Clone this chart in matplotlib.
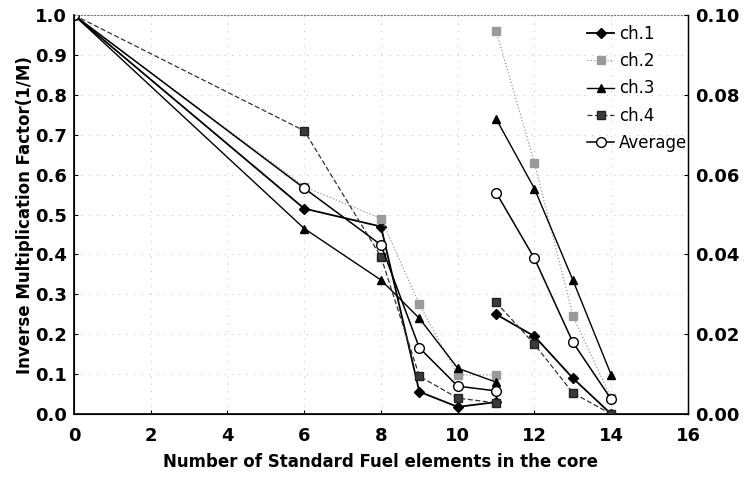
import matplotlib
matplotlib.use("Agg")
import matplotlib.pyplot as plt
import numpy as np

# first loading stage, left axis (1/M)
x_low = [0, 6, 8, 9, 10, 11]
ch1_low = [1.0, 0.515, 0.47, 0.056, 0.018, 0.03]
ch2_low = [1.0, 0.57, 0.49, 0.275, 0.098, 0.098]
ch3_low = [1.0, 0.465, 0.336, 0.24, 0.115, 0.08]
ch4_low = [1.0, 0.71, 0.394, 0.095, 0.04, 0.028]
avg_low = [1.0, 0.566, 0.424, 0.166, 0.07, 0.058]

# second stage, right axis (1/M)
x_high = [11, 12, 13, 14]
ch1_high = [0.025, 0.0195, 0.009, 0.0]
ch2_high = [0.096, 0.063, 0.0246, 0.004]
ch3_high = [0.074, 0.0565, 0.0336, 0.0098]
ch4_high = [0.028, 0.0175, 0.0053, 0.0]
avg_high = [0.0555, 0.039, 0.018, 0.0037]

styles = {
    "ch.1": dict(color="black", lw=1.3, ls="-", marker="D", ms=5, mfc="black", mec="black"),
    "ch.2": dict(color="#9a9a9a", lw=0.9, ls=":", marker="s", ms=6, mfc="#9a9a9a", mec="#9a9a9a"),
    "ch.3": dict(color="black", lw=1.0, ls="-", marker="^", ms=6, mfc="black", mec="black"),
    "ch.4": dict(color="#333333", lw=0.9, ls=(0, (4, 2)), marker="s", ms=6, mfc="#3a3a3a", mec="#222222"),
    "Average": dict(color="black", lw=1.1, ls="-", marker="o", ms=7, mfc="white", mec="black"),
}

fig = plt.figure(figsize=(7.46, 4.86), dpi=100)
ax = fig.add_axes([0.0992, 0.148, 0.823, 0.821])
ax2 = ax.twinx()

lows = [ch1_low, ch2_low, ch3_low, ch4_low, avg_low]
highs = [ch1_high, ch2_high, ch3_high, ch4_high, avg_high]
handles = []
for name, lo, hi in zip(styles, lows, highs):
    h, = ax.plot(x_low, lo, label=name, **styles[name])
    ax2.plot(x_high, hi, **styles[name])
    handles.append(h)

ax.set_xlim(0, 16)
ax.set_ylim(0, 1.0)
ax2.set_ylim(0, 0.10)
ax.set_xticks(np.arange(0, 17, 2))
ax.set_yticks(np.arange(0, 1.01, 0.1))
ax2.set_yticks(np.arange(0, 0.101, 0.02))
ax.yaxis.set_major_formatter(matplotlib.ticker.StrMethodFormatter("{x:.1f}"))
ax2.yaxis.set_major_formatter(matplotlib.ticker.StrMethodFormatter("{x:.2f}"))

ax.grid(True, ls=(0, (1, 8)), color="#aaaaaa", lw=0.6)
ax.spines["top"].set_linestyle((0, (1, 2)))
ax.spines["top"].set_color("#777777")
ax2.spines["top"].set_visible(False)
for s in ["left", "bottom"]:
    ax.spines[s].set_linewidth(1.2)
ax2.spines["right"].set_linewidth(1.0)

for a in (ax, ax2):
    a.tick_params(direction="in", length=3, labelsize=13, pad=5)
    for lab in a.get_xticklabels() + a.get_yticklabels():
        lab.set_fontweight("bold")
ax.tick_params(axis="x", pad=9)

ax.set_xlabel("Number of Standard Fuel elements in the core", fontsize=12, fontweight="bold", labelpad=6)
ax.set_ylabel("Inverse Multiplication Factor(1/M)", fontsize=12, fontweight="bold", labelpad=1)

leg = ax.legend(handles=handles, loc="upper left", bbox_to_anchor=(0.82, 1.0), frameon=False,
                fontsize=12, handlelength=1.6, handletextpad=0.3, labelspacing=0.55, borderaxespad=0.2)

fig.savefig("out.png", dpi=100)
